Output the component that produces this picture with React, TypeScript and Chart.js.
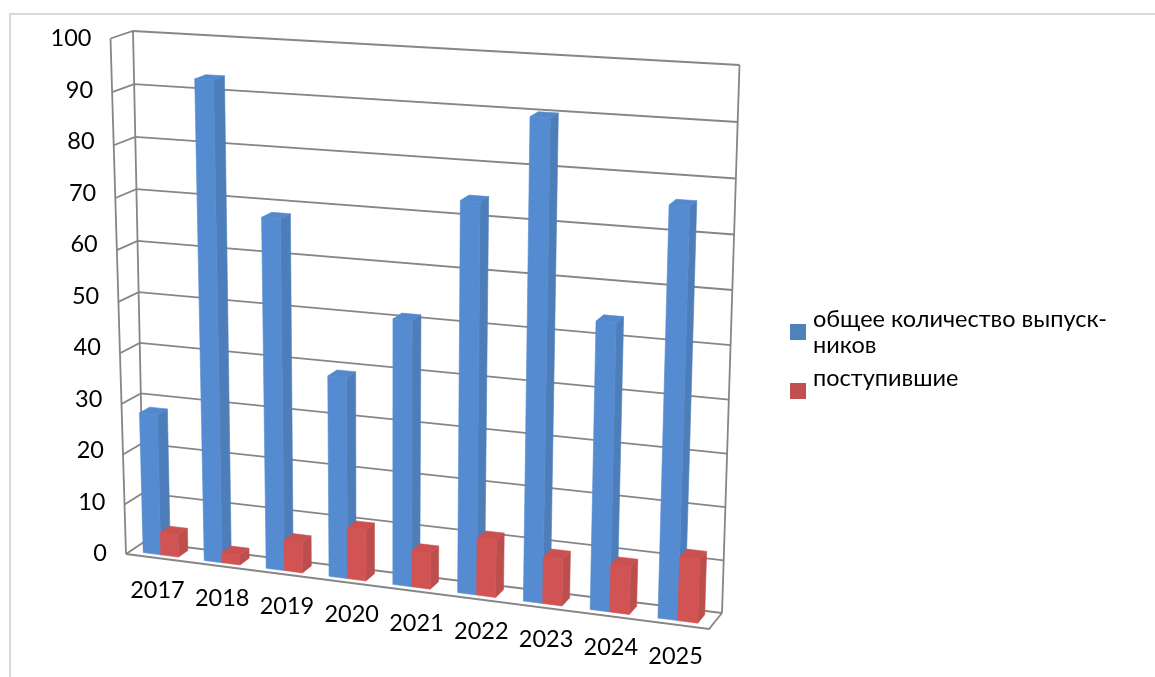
import React, { useEffect, useRef } from "react";
import { Chart, registerables } from "chart.js";

Chart.register(...registerables);

const categories = ["2017", "2018", "2019", "2020", "2021", "2022", "2023", "2024", "2025"];
const graduates = [28, 93, 68, 39, 51, 74, 90, 54, 76];
const admitted = [4.5, 2, 6, 10, 7, 11, 9, 9, 12];
const seriesNames = [["общее количество выпуск-", "ников"], ["поступившие"]];
const seriesColors = ["#558BD0", "#D15353"];
const sideColors = ["#4D7EBA", "#BD4E4E"];
const topColors = ["#5388CC", "#CB5050"];
const legendColors = ["#4F81BD", "#C0504D"];

const FONT = '"Lato", "Open Sans", sans-serif';
const GRID = "#868686";

type P = [number, number];
// corners of the projected box: Front/Back, Left/Right, Bottom/Top
const FLB: P = [126, 554], FRB: P = [709, 629], BLB: P = [144, 542], BRB: P = [722, 613];
const FLT: P = [110.5, 38.5], FRT: P = [727, 74], BLT: P = [133, 31], BRT: P = [739.5, 65];
const KX = 1.07, KV = 1.045;

const warp = (t: number, k: number) => t / (t + k * (1 - t));
const lerp = (a: P, b: P, t: number): P => [a[0] + (b[0] - a[0]) * t, a[1] + (b[1] - a[1]) * t];
const project = (u: number, v: number, w: number): P => {
  const uu = warp(u, KX), vv = warp(v, KV);
  const fb = lerp(FLB, FRB, uu), bb = lerp(BLB, BRB, uu), ft = lerp(FLT, FRT, uu), bt = lerp(BLT, BRT, uu);
  return lerp(lerp(fb, bb, w), lerp(ft, bt, w), vv);
};

const poly = (ctx: CanvasRenderingContext2D, pts: P[], fill: string) => {
  ctx.beginPath();
  pts.forEach((p, i) => (i ? ctx.lineTo(p[0], p[1]) : ctx.moveTo(p[0], p[1])));
  ctx.closePath();
  ctx.fillStyle = fill;
  ctx.strokeStyle = fill;
  ctx.lineWidth = 0.6;
  ctx.fill();
  ctx.stroke();
};
const line = (ctx: CanvasRenderingContext2D, pts: P[]) => {
  ctx.beginPath();
  pts.forEach((p, i) => (i ? ctx.lineTo(p[0], p[1]) : ctx.moveTo(p[0], p[1])));
  ctx.stroke();
};

const scene3d = {
  id: "scene3d",
  beforeDatasetsDraw(chart: any) {
    const { ctx, chartArea: a, scales } = chart;
    const yS = scales.y, xS = scales.x;
    const U = (px: number) => (px - a.left) / (a.right - a.left);
    const V = (py: number) => (a.bottom - py) / (a.bottom - a.top);
    ctx.save();

    // page frame
    ctx.strokeStyle = "#D9D9D9";
    ctx.lineWidth = 2;
    line(ctx, [[10, 677], [10, 14], [1155, 14]]);

    // walls and floor
    ctx.strokeStyle = GRID;
    ctx.lineWidth = 1.8;
    yS.ticks.forEach((t: any) => {
      const v = V(yS.getPixelForValue(t.value));
      line(ctx, [project(0, v, 0), project(0, v, 1), project(1, v, 1)]);
    });
    line(ctx, [project(0, 0, 0), project(0, 1, 0)]);
    line(ctx, [project(0, 0, 1), project(0, 1, 1)]);
    line(ctx, [project(1, 0, 1), project(1, 1, 1)]);
    line(ctx, [project(0, 0, 0), project(1, 0, 0), project(1, 0, 1)]);

    // bars
    const W0 = 0.25, W1 = 0.78;
    categories.forEach((_, i) => {
      chart.data.datasets.forEach((_d: any, di: number) => {
        const el = chart.getDatasetMeta(di).data[i];
        const u0 = U(el.x - el.width / 2), u1 = U(el.x + el.width / 2);
        const v0 = V(el.base), v1 = V(el.y);
        poly(ctx, [project(u1, v0, W0), project(u1, v0, W1), project(u1, v1, W1), project(u1, v1, W0)], sideColors[di]);
        poly(ctx, [project(u0, v1, W0), project(u1, v1, W0), project(u1, v1, W1), project(u0, v1, W1)], topColors[di]);
        poly(ctx, [project(u0, v0, W0), project(u1, v0, W0), project(u1, v1, W0), project(u0, v1, W0)], seriesColors[di]);
      });
    });

    // tick labels
    ctx.fillStyle = "#000";
    ctx.font = `23.5px ${FONT}`;
    ctx.textBaseline = "middle";
    ctx.textAlign = "right";
    yS.ticks.forEach((t: any) => {
      const py = yS.getPixelForValue(t.value);
      const edge = FLB[0] + (FLT[0] - FLB[0]) * V(py);
      ctx.fillText(String(t.value), edge - 19, py);
    });
    ctx.textAlign = "center";
    xS.ticks.forEach((_t: any, i: number) => {
      const px = xS.getPixelForTick(i);
      ctx.fillText(categories[i], px - 1, 590 + (px - 158) * 0.1275);
    });

    // legend
    ctx.textAlign = "left";
    const markerY = [324, 383];
    const textY = [[319, 345], [378]];
    seriesNames.forEach((lines, di) => {
      ctx.fillStyle = legendColors[di];
      ctx.fillRect(790, markerY[di], 16, 16);
      ctx.fillStyle = "#000";
      lines.forEach((s, li) => ctx.fillText(s, 813, textY[di][li]));
    });

    ctx.restore();
    return false;
  },
};

export default function App() {
  const ref = useRef<HTMLCanvasElement>(null);
  useEffect(() => {
    const chart = new Chart(ref.current!, {
      type: "bar",
      data: {
        labels: categories,
        datasets: [
          { label: seriesNames[0].join(""), data: graduates, backgroundColor: seriesColors[0] },
          { label: seriesNames[1].join(""), data: admitted, backgroundColor: seriesColors[1] },
        ],
      },
      options: {
        responsive: false,
        animation: false,
        layout: { padding: { left: 126, right: 446, top: 38.5, bottom: 123.5 } },
        plugins: { legend: { display: false }, tooltip: { enabled: false } },
        datasets: { bar: { categoryPercentage: 0.58, barPercentage: 1 } },
        scales: {
          x: { display: false, type: "category" },
          y: { display: false, min: 0, max: 100, ticks: { stepSize: 10 } },
        },
      },
      plugins: [scene3d],
    } as any);
    return () => chart.destroy();
  }, []);
  return (
    <canvas
      ref={ref}
      width={1155}
      height={677}
      style={{ position: "fixed", left: 0, top: 0, display: "block", background: "#fff" }}
    />
  );
}
